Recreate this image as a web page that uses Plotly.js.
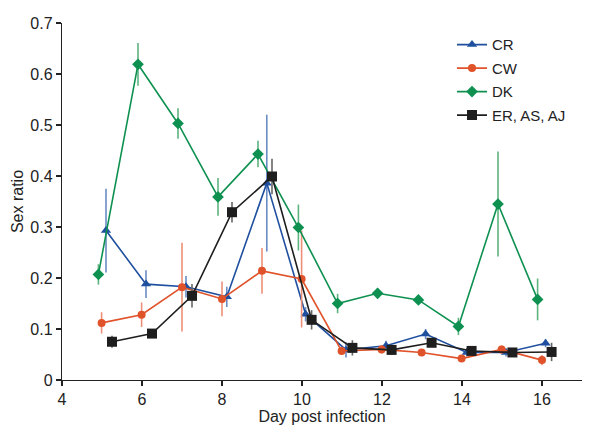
<!DOCTYPE html>
<html>
<head>
<meta charset="utf-8">
<script src="https://cdn.plot.ly/plotly-3.0.1.min.js"></script>
<style>html,body{margin:0;padding:0;background:#fff;}#chart{width:600px;height:434px;}</style>
</head>
<body>
<div id="chart"></div>
<script>
// Day post infection (x positions as plotted, with small per-series offsets)
const crDays = [5.1, 6.1, 7.1, 8.12, 9.12, 10.09, 11.1, 12.1, 13.09, 14.12, 15.1, 16.09];
const cwDays = [4.99, 5.99, 7.0, 8.0, 9.0, 9.99, 10.99, 11.99, 12.99, 13.99, 14.99, 16.0];
const dkDays = [4.91, 5.9, 6.9, 7.9, 8.9, 9.91, 10.89, 11.89, 12.91, 13.91, 14.9, 15.89];
const erDays = [5.25, 6.25, 7.25, 8.25, 9.25, 10.24, 11.26, 12.24, 13.24, 14.24, 15.26, 16.24];

// Sex ratio values
const crVals = [0.293, 0.188, 0.183, 0.163, 0.386, 0.129, 0.059, 0.067, 0.090, 0.054, 0.054, 0.072];
const cwVals = [0.112, 0.128, 0.182, 0.159, 0.214, 0.198, 0.057, 0.060, 0.054, 0.042, 0.060, 0.039];
const dkVals = [0.207, 0.619, 0.503, 0.359, 0.443, 0.299, 0.150, 0.170, 0.157, 0.105, 0.345, 0.158];
const erVals = [0.075, 0.091, 0.165, 0.329, 0.399, 0.118, 0.063, 0.059, 0.073, 0.057, 0.054, 0.055];

// Error bar half-widths
const crErr = [0.082, 0.027, 0.021, 0.020, 0.134, 0.014, 0.015, 0.010, 0.010, 0.008, 0.008, 0.008];
const cwErr = [0.021, 0.024, 0.087, 0.034, 0.045, 0.095, 0.008, 0.008, 0.006, 0.006, 0.008, 0.010];
const dkErr = [0.020, 0.042, 0.030, 0.037, 0.026, 0.045, 0.019, 0.010, 0.008, 0.017, 0.103, 0.041];
const erErr = [0.012, 0.008, 0.023, 0.020, 0.035, 0.019, 0.015, 0.010, 0.006, 0.006, 0.006, 0.018];

const seriesNames = ['CR', 'CW', 'DK', 'ER, AS, AJ'];

function mk(name, x, y, err, color, errColor, symbol, size) {
  return {
    type: 'scatter', mode: 'lines+markers', name: name, x: x, y: y,
    legendgroup: name,
    line: {color: color, width: 1.6},
    marker: {color: color, symbol: symbol, size: size, line: {width: 0}},
    error_y: {type: 'data', array: err, visible: true, color: errColor, thickness: 1.6, width: 0}
  };
}

const data = [
  mk(seriesNames[0], crDays, crVals, crErr, '#1f4f9f', '#6a8cc4', 'triangle-up', 9),
  mk(seriesNames[1], cwDays, cwVals, cwErr, '#e0522a', '#ee9077', 'circle', 8),
  mk(seriesNames[2], dkDays, dkVals, dkErr, '#0e9150', '#5db37f', 'diamond', 9),
  mk(seriesNames[3], erDays, erVals, erErr, '#1e1e1e', '#666666', 'square', 10)
];

const font = {family: '"Liberation Sans", Arial, sans-serif', size: 16, color: '#222'};

const layout = {
  width: 600, height: 434,
  margin: {l: 62, r: 18, t: 23, b: 54},
  paper_bgcolor: '#fff', plot_bgcolor: '#fff',
  font: font,
  showlegend: true,
  legend: {
    x: 0.75, y: 0.985, xanchor: 'left', yanchor: 'top',
    font: {family: font.family, size: 15, color: '#222'},
    bgcolor: 'rgba(0,0,0,0)', tracegroupgap: 1, traceorder: 'grouped'
  },
  xaxis: {
    range: [4, 17], tickvals: [4, 6, 8, 10, 12, 14, 16], ticktext: ['4','6','8','10','12','14','16'],
    showgrid: false, zeroline: false, showline: true, linecolor: '#222', linewidth: 1.2,
    ticks: 'outside', ticklen: 5, tickcolor: '#222', tickwidth: 1.2,
    tickfont: {size: 16},
    title: {text: 'Day post infection', font: {size: 16}, standoff: 2}
  },
  yaxis: {
    range: [0, 0.7], tickvals: [0, 0.1, 0.2, 0.3, 0.4, 0.5, 0.6, 0.7],
    ticktext: ['0','0.1','0.2','0.3','0.4','0.5','0.6','0.7'],
    showgrid: false, zeroline: false, showline: true, linecolor: '#222', linewidth: 1.2,
    ticks: 'outside', ticklen: 5, tickcolor: '#222', tickwidth: 1.2,
    tickfont: {size: 16},
    title: {text: 'Sex ratio', font: {size: 16}, standoff: 2}
  }
};

Plotly.newPlot('chart', data, layout, {displayModeBar: false, staticPlot: true});
</script>
</body>
</html>
